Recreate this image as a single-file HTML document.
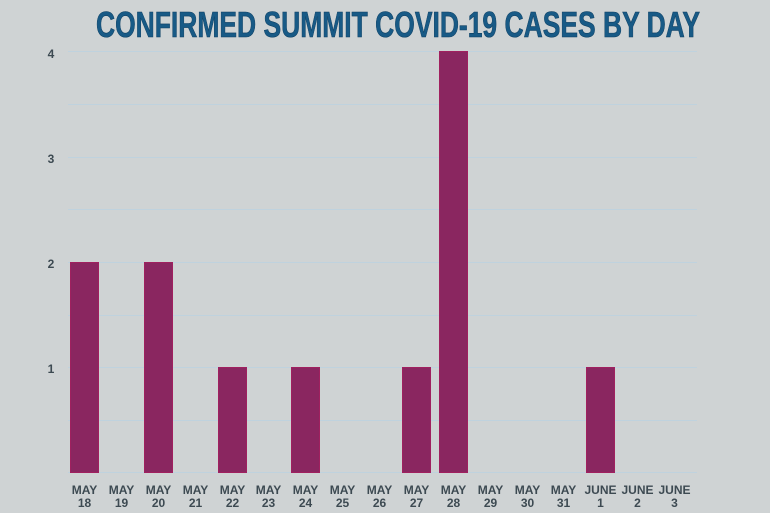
<!DOCTYPE html>
<html><head><meta charset="utf-8"><style>
html,body{margin:0;padding:0;background:#cfd3d4;}
</style></head><body>
<svg width="770" height="513" xmlns="http://www.w3.org/2000/svg" style="display:block">
<rect width="770" height="513" fill="#cfd3d4"/>
<text x="398" y="37" text-anchor="middle" textLength="604" lengthAdjust="spacingAndGlyphs" font-family="Liberation Sans, sans-serif" font-weight="bold" font-size="36" fill="#185a86" stroke="#0e3f62" stroke-width="0.6">CONFIRMED SUMMIT COVID-19 CASES BY DAY</text>
<g stroke="#bfd2de" stroke-width="1">
<line x1="68" x2="697" y1="51.5" y2="51.5"/>
<line x1="68" x2="697" y1="104.5" y2="104.5"/>
<line x1="68" x2="697" y1="157.5" y2="157.5"/>
<line x1="68" x2="697" y1="209.5" y2="209.5"/>
<line x1="68" x2="697" y1="262.5" y2="262.5"/>
<line x1="68" x2="697" y1="315.5" y2="315.5"/>
<line x1="68" x2="697" y1="367.5" y2="367.5"/>
<line x1="68" x2="697" y1="420.5" y2="420.5"/>
<line x1="68" x2="697" y1="472.5" y2="472.5"/>
</g>
<g font-family="Liberation Sans, sans-serif" font-weight="bold" font-size="12" fill="#3d4a52" text-anchor="middle">
<text x="51" y="58">4</text>
<text x="51" y="163">3</text>
<text x="51" y="268">2</text>
<text x="51" y="373">1</text>
</g>
<g fill="#8a2660" stroke="#a0205f" stroke-width="1">
<rect x="70.5" y="262.5" width="28" height="210"/>
<rect x="144.5" y="262.5" width="28" height="210"/>
<rect x="218.5" y="367.5" width="28" height="105"/>
<rect x="291.5" y="367.5" width="28" height="105"/>
<rect x="402.5" y="367.5" width="28" height="105"/>
<rect x="439.5" y="51.5" width="28" height="421"/>
<rect x="586.5" y="367.5" width="28" height="105"/>
</g>
<g font-family="Liberation Sans, sans-serif" font-weight="bold" font-size="12" fill="#3d4a52" text-anchor="middle">
<text x="84.5" y="494">MAY</text><text x="84.5" y="507">18</text>
<text x="121.5" y="494">MAY</text><text x="121.5" y="507">19</text>
<text x="158.5" y="494">MAY</text><text x="158.5" y="507">20</text>
<text x="195.5" y="494">MAY</text><text x="195.5" y="507">21</text>
<text x="232.5" y="494">MAY</text><text x="232.5" y="507">22</text>
<text x="268.5" y="494">MAY</text><text x="268.5" y="507">23</text>
<text x="305.5" y="494">MAY</text><text x="305.5" y="507">24</text>
<text x="342.5" y="494">MAY</text><text x="342.5" y="507">25</text>
<text x="379.5" y="494">MAY</text><text x="379.5" y="507">26</text>
<text x="416.5" y="494">MAY</text><text x="416.5" y="507">27</text>
<text x="453.5" y="494">MAY</text><text x="453.5" y="507">28</text>
<text x="490.5" y="494">MAY</text><text x="490.5" y="507">29</text>
<text x="527.5" y="494">MAY</text><text x="527.5" y="507">30</text>
<text x="563.5" y="494">MAY</text><text x="563.5" y="507">31</text>
<text x="600.5" y="494">JUNE</text><text x="600.5" y="507">1</text>
<text x="637.5" y="494">JUNE</text><text x="637.5" y="507">2</text>
<text x="674.5" y="494">JUNE</text><text x="674.5" y="507">3</text>
</g>
</svg>
</body></html>
